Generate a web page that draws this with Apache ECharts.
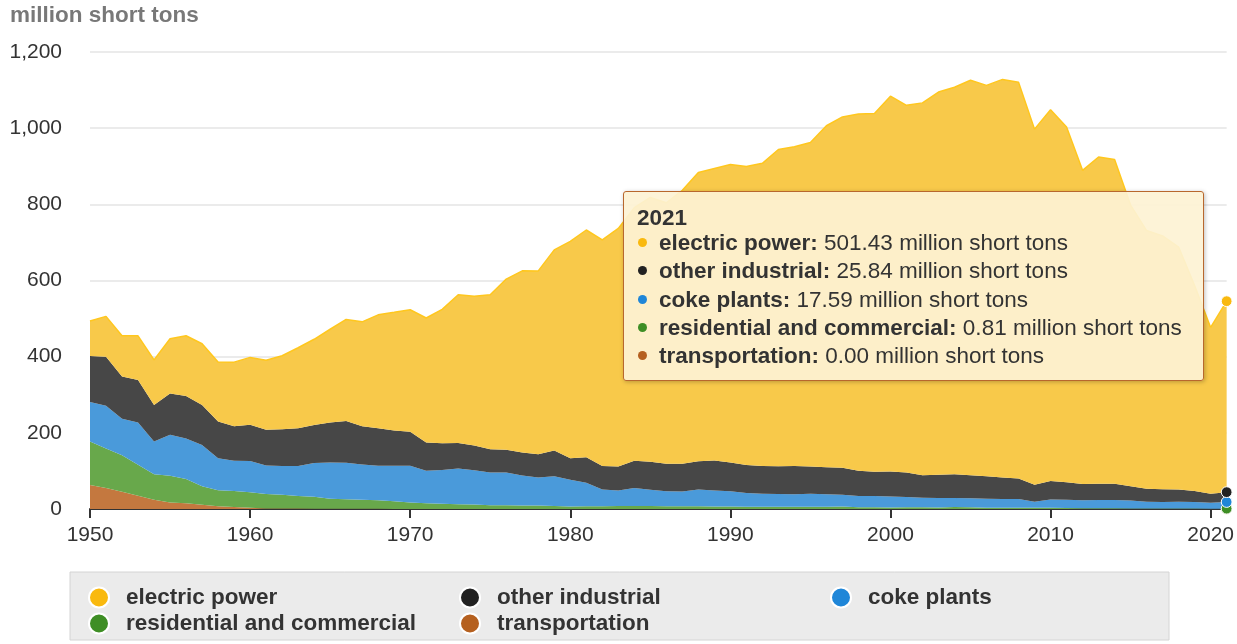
<!DOCTYPE html>
<html>
<head>
<meta charset="utf-8">
<script src="https://cdn.jsdelivr.net/npm/echarts@6.0.0/dist/echarts.min.js"></script>
<style>
  html, body { margin: 0; padding: 0; background: #ffffff; }
  #main { width: 1237px; height: 644px; }
</style>
</head>
<body>
<div id="main"></div>
<script>
// ---- data (million short tons) ----
const years = [
  '1950','1951','1952','1953','1954','1955','1956','1957','1958','1959',
  '1960','1961','1962','1963','1964','1965','1966','1967','1968','1969',
  '1970','1971','1972','1973','1974','1975','1976','1977','1978','1979',
  '1980','1981','1982','1983','1984','1985','1986','1987','1988','1989',
  '1990','1991','1992','1993','1994','1995','1996','1997','1998','1999',
  '2000','2001','2002','2003','2004','2005','2006','2007','2008','2009',
  '2010','2011','2012','2013','2014','2015','2016','2017','2018','2019',
  '2020','2021'
];

const electricPower = [
  91.9,105.8,107.1,115.9,118.4,143.8,158.3,160.8,155.7,168.4,
  176.7,182.2,193.2,211.3,225.4,244.8,266.5,274.2,297.8,310.6,
  320.2,327.3,351.8,389.2,391.8,406.0,448.4,477.1,481.2,527.1,
  569.3,596.8,593.7,625.2,664.4,693.8,685.1,717.9,758.4,766.9,
  782.6,783.9,795.1,831.6,838.4,850.2,896.9,921.4,936.6,940.9,
  985.8,964.4,977.5,1005.1,1016.3,1037.5,1026.6,1045.1,1040.6,933.6,
  975.1,932.5,823.6,858.0,851.6,738.4,677.9,664.9,636.5,539.4,
  436.5,501.43
];

const otherIndustrial = [
  121,129,110.6,111.9,96.1,108.2,111.6,105.2,96.5,90.2,
  95.4,93.7,95.9,99.2,99.4,105.2,109.6,100.4,98.3,92.1,
  89.7,74.1,69.8,67.2,64.8,60.5,59.8,60.1,61,67.4,
  56.9,66.8,61.7,62.7,71.7,73.4,72.6,73,74,78.4,
  75.2,73.2,72.4,73.3,73.9,72.1,70.4,70.6,66.1,63.8,
  65.2,64.3,59.5,60.6,61.9,60.1,59,56.4,53.9,44.8,
  48.4,46.3,42.5,42.9,42.6,37.6,34.4,33.9,32.1,28.7,
  23.9,25.84
];

const cokePlants = [
  104,112,96,111,86,108,106,108,84,80,
  82,75,76,79,89,95.3,96,92.3,90.8,93.4,
  96,85,89,93.6,90.2,86,86,79,74,78,
  70,62,44,41,47,43,39,39,44,42,
  40,36,34,33,33,34,33,31,29.5,29,
  29,27,25,25,24,24,23.5,23,22.5,16,
  22,21.5,21,21.5,21.5,20.5,17.5,17,18.3,17.4,
  15.5,17.59
];

const residentialCommercial = [
  114,104,96,81,67,70,64,49,42,42,
  41,38,36,33,31,26,25,24,22.5,20,
  17,15,13.5,12.5,11.5,10,9.5,9,9,8,
  6.5,7,7.5,7.8,8.2,7.8,7.5,7,7.2,6.8,
  6.7,6.1,6.2,6.2,6,5.8,6,6.5,4.9,4.9,
  4.1,4.4,4.4,4.2,5.1,4.3,3.2,3.5,3.5,3.1,
  3.0,2.6,2.1,2.0,2.0,1.6,1.3,1.1,1.0,1.0,
  0.8,0.81
];

const transportation = [
  63,55,45,35,24,17,15,11,7.5,5,
  3,1.5,1.2,1,0.9,0.7,0.6,0.5,0.4,0.3,
  0.3,0.2,0.2,0.1,0.1,0.1,0.1,0.1,0,0,
  0,0,0,0,0,0,0,0,0,0,
  0,0,0,0,0,0,0,0,0,0,
  0,0,0,0,0,0,0,0,0,0,
  0,0,0,0,0,0,0,0,0,0,
  0,0
];

const yTicks = [0, 200, 400, 600, 800, 1000, 1200];
const unitText = 'million short tons';

// ---- styling ----
const FONT = "'Liberation Sans', Arial, Helvetica, sans-serif";
const seriesDefs = [
  { name: 'transportation',             data: transportation,        fill: '#C4783F', dot: '#B5601F' },
  { name: 'residential and commercial', data: residentialCommercial, fill: '#68A84B', dot: '#3E8E25' },
  { name: 'coke plants',                data: cokePlants,            fill: '#4A9ADA', dot: '#1F86D8' },
  { name: 'other industrial',           data: otherIndustrial,       fill: '#474747', dot: '#222222' },
  { name: 'electric power',             data: electricPower,         fill: '#F8C94A', dot: '#F9B90F', line: '#F2B51C' }
];
const dotColor = {};
seriesDefs.forEach(d => dotColor[d.name] = d.dot);

const legendCommon = {
  orient: 'vertical',
  top: 586,
  itemGap: 3,
  itemWidth: 20,
  itemHeight: 20,
  icon: 'circle',
  padding: 0,
  selectedMode: false,
  z: 10,
  textStyle: { fontFamily: FONT, fontSize: 22.5, fontWeight: 'bold', color: '#333333', padding: [0, 0, 0, 12] }
};
function legendItems(names) {
  return names.map(n => ({ name: n, itemStyle: { color: dotColor[n] } }));
}

const chart = echarts.init(document.getElementById('main'), null, { renderer: 'canvas' });

const option = {
  animation: false,
  backgroundColor: '#ffffff',
  title: {
    text: unitText,
    left: 10,
    top: 4,
    padding: 0,
    textStyle: { fontFamily: FONT, fontSize: 22.5, fontWeight: 'bold', color: '#787878' }
  },
  graphic: [{
    type: 'rect',
    z: 0,
    shape: { x: 70, y: 572, width: 1099, height: 68 },
    style: { fill: '#EBEBEB', stroke: '#D4D4D4', lineWidth: 1 }
  }],
  legend: [
    Object.assign({}, legendCommon, { left: 88,  data: legendItems(['electric power', 'residential and commercial']) }),
    Object.assign({}, legendCommon, { left: 459, data: legendItems(['other industrial', 'transportation']) }),
    Object.assign({}, legendCommon, { left: 830, data: legendItems(['coke plants']) })
  ],
  grid: { left: 90, right: 7, top: 52, bottom: 135, containLabel: false },
  xAxis: {
    type: 'category',
    data: years,
    boundaryGap: false,
    axisLine: { show: true, lineStyle: { color: '#333333', width: 2 } },
    axisTick: {
      show: true, length: 9, lineStyle: { color: '#333333', width: 2 },
      interval: (i, v) => Number(v) % 10 === 0
    },
    axisLabel: {
      interval: (i, v) => Number(v) % 10 === 0,
      fontFamily: FONT, fontSize: 21, color: '#333333', margin: 16
    },
    splitLine: { show: false }
  },
  yAxis: {
    type: 'value',
    min: yTicks[0],
    max: yTicks[yTicks.length - 1],
    interval: yTicks[1] - yTicks[0],
    axisLine: { show: false },
    axisTick: { show: false },
    axisLabel: {
      fontFamily: FONT, fontSize: 21, color: '#333333', margin: 28,
      formatter: v => v.toLocaleString('en-US')
    },
    splitLine: { lineStyle: { color: '#E4E4E4', width: 1.5 } }
  },
  tooltip: {
    trigger: 'axis',
    triggerOn: 'none',
    alwaysShowContent: true,
    transitionDuration: 0,
    confine: false,
    axisPointer: { type: 'line', lineStyle: { opacity: 0 } },
    position: [623, 191],
    backgroundColor: 'rgba(253,242,212,0.92)',
    borderColor: '#B8672D',
    borderWidth: 1.5,
    borderRadius: 3,
    padding: [15, 18, 10, 13],
    extraCssText: 'box-shadow:1px 1px 4px rgba(0,0,0,0.25); width:548px;',
    textStyle: { fontFamily: FONT, fontSize: 22.5, color: '#333333' },
    formatter: params => {
      const ordered = params.slice().reverse();
      let html = '<div style="font-weight:bold;line-height:22px;">' + ordered[0].axisValue + '</div>';
      ordered.forEach(p => {
        html += '<div style="line-height:28.3px;">' +
          '<span style="display:inline-block;width:9px;height:9px;border-radius:50%;background:' + dotColor[p.seriesName] +
          ';margin:0 12px 3px 1px;vertical-align:middle;"></span>' +
          '<b>' + p.seriesName + ':</b> ' + Number(p.value).toFixed(2) + ' ' + unitText + '</div>';
      });
      return html;
    }
  },
  series: seriesDefs.map(d => ({
    name: d.name,
    type: 'line',
    stack: 'total',
    data: d.data,
    symbol: 'circle',
    symbolSize: 9,
    showSymbol: false,
    lineStyle: { width: d.line ? 1.5 : 0, color: d.line || d.fill },
    areaStyle: { color: d.fill, opacity: 1 },
    itemStyle: { color: d.dot, borderColor: '#ffffff', borderWidth: 1 },
    emphasis: { scale: 1.2, lineStyle: { width: d.line ? 1.5 : 0 }, areaStyle: { color: d.fill, opacity: 1 } }
  }))
};

chart.setOption(option);
chart.dispatchAction({ type: 'showTip', seriesIndex: 4, dataIndex: years.length - 1 });
</script>
</body>
</html>
